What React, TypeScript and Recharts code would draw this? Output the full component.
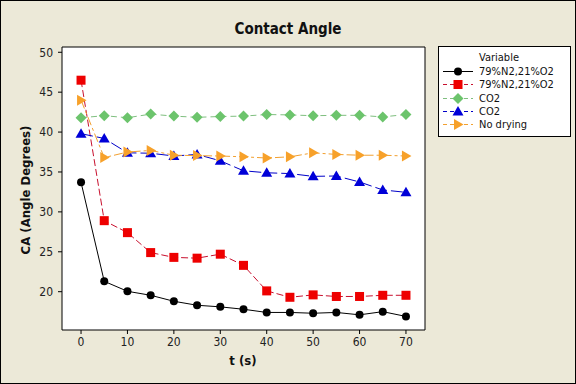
import React from 'react';
import { LineChart, Line, XAxis, YAxis, ReferenceArea } from 'recharts';

const times = [0, 5, 10, 15, 20, 25, 30, 35, 40, 45, 50, 55, 60, 65, 70];
const n2o2A = [33.7, 21.3, 20.05, 19.55, 18.8, 18.3, 18.1, 17.8, 17.4, 17.4, 17.3, 17.4, 17.1, 17.5, 16.9];
const n2o2B = [46.5, 28.9, 27.4, 24.9, 24.3, 24.2, 24.7, 23.3, 20.1, 19.3, 19.6, 19.4, 19.4, 19.55, 19.55];
const co2A = [41.8, 42.05, 41.8, 42.25, 42.0, 41.85, 41.95, 42.0, 42.2, 42.15, 42.05, 42.1, 42.1, 41.9, 42.2];
const co2B = [39.8, 39.2, 37.4, 37.35, 37.0, 37.2, 36.4, 35.15, 34.9, 34.8, 34.45, 34.5, 33.75, 32.75, 32.45];
const noDrying = [44.0, 36.8, 37.5, 37.7, 37.1, 37.05, 37.0, 36.9, 36.75, 36.9, 37.4, 37.2, 37.1, 37.1, 37.0];
const xTicks = [0, 10, 20, 30, 40, 50, 60, 70];
const yTicks = [20, 25, 30, 35, 40, 45, 50];

const data = times.map((t, i) => ({
  t,
  a: n2o2A[i],
  b: n2o2B[i],
  c: co2A[i],
  d: co2B[i],
  e: noDrying[i],
}));

type Shape = 'circle' | 'square' | 'diamond' | 'tri' | 'right';

function marker(shape: Shape, cx: number, cy: number, color: string, key?: any) {
  switch (shape) {
    case 'circle':
      return <circle key={key} cx={cx} cy={cy} r={4} fill={color} stroke="none" />;
    case 'square':
      return <rect key={key} x={cx - 4.5} y={cy - 4.5} width={9} height={9} fill={color} />;
    case 'diamond':
      return <polygon key={key} points={`${cx},${cy - 5.5} ${cx + 5.5},${cy} ${cx},${cy + 5.5} ${cx - 5.5},${cy}`} fill={color} />;
    case 'tri':
      return <polygon key={key} points={`${cx},${cy - 5.5} ${cx + 5.5},${cy + 4} ${cx - 5.5},${cy + 4}`} fill={color} />;
    case 'right':
      return <polygon key={key} points={`${cx + 5.5},${cy} ${cx - 4},${cy - 5.5} ${cx - 4},${cy + 5.5}`} fill={color} />;
  }
}

const series = [
  { key: 'a', name: '79%N2,21%O2', line: '#000000', fill: '#000000', dash: undefined as string | undefined, shape: 'circle' as Shape },
  { key: 'b', name: '79%N2,21%O2', line: '#C8102E', fill: '#EE0000', dash: '7 3', shape: 'square' as Shape },
  { key: 'c', name: 'CO2', line: '#7FBF7F', fill: '#6CC46C', dash: '6 4', shape: 'diamond' as Shape },
  { key: 'd', name: 'CO2', line: '#0000C8', fill: '#0000D8', dash: '12 4', shape: 'tri' as Shape },
  { key: 'e', name: 'No drying', line: '#F2A030', fill: '#F7A12A', dash: '9 3 3 3', shape: 'right' as Shape },
];

const font = '"DejaVu Sans Condensed", "DejaVu Sans", sans-serif';

export default function App() {
  return (
    <div
      style={{
        position: 'fixed',
        left: 0,
        top: 0,
        width: 576,
        height: 384,
        background: '#ECE9D8',
        border: '1px solid #000',
        boxSizing: 'border-box',
        fontFamily: font,
        overflow: 'hidden',
      }}
    >
      <div
        style={{
          position: 'absolute',
          left: -1,
          top: -1,
          width: 576,
          height: 384,
        }}
      >
        <LineChart
          width={576}
          height={384}
          data={data}
          margin={{ top: 47, left: 22, right: 151, bottom: 24 }}
        >
          <XAxis
            dataKey="t"
            type="number"
            domain={[-4.1, 74.1]}
            ticks={xTicks}
            allowDataOverflow
            height={30}
            tickSize={4}
            tickMargin={3}
            axisLine={false}
            tickLine={{ stroke: '#000' }}
            tick={{ fill: '#222', fontSize: 12, fontFamily: font }}
          />
          <YAxis
            type="number"
            domain={[15.2, 50.66]}
            ticks={yTicks}
            allowDataOverflow
            width={40}
            tickSize={4}
            tickMargin={5}
            axisLine={false}
            tickLine={{ stroke: '#000' }}
            tick={{ fill: '#222', fontSize: 12, fontFamily: font }}
          />
          <ReferenceArea
            x1={-4.1}
            x2={74.1}
            y1={15.2}
            y2={50.66}
            fill="#FFFFFF"
            fillOpacity={1}
            stroke="#000"
            strokeWidth={1}
            ifOverflow="visible"
          />
          {series.map((s) => (
            <Line
              key={s.key}
              dataKey={s.key}
              name={s.name}
              type="linear"
              stroke={s.line}
              strokeWidth={1}
              strokeDasharray={s.dash}
              isAnimationActive={false}
              dot={(p: any) => marker(s.shape, p.cx, p.cy, s.fill, p.index)}
              activeDot={false}
            />
          ))}
        </LineChart>
      </div>
      <div
        style={{
          position: 'absolute',
          left: 0,
          width: 574,
          top: 19,
          textAlign: 'center',
          fontSize: 15,
          fontWeight: 'bold',
          color: '#111',
        }}
      >
        Contact Angle
      </div>
      <div
        style={{
          position: 'absolute',
          left: 25 - 100,
          top: 189 - 9,
          width: 200,
          height: 18,
          lineHeight: '18px',
          textAlign: 'center',
          fontSize: 13,
          fontWeight: 'bold',
          color: '#111',
          transform: 'rotate(-90deg)',
        }}
      >
        CA (Angle Degrees)
      </div>
      <div
        style={{
          position: 'absolute',
          left: 242 - 50,
          top: 352,
          width: 100,
          textAlign: 'center',
          fontSize: 13,
          fontWeight: 'bold',
          color: '#111',
        }}
      >
        t (s)
      </div>
      <div
        style={{
          position: 'absolute',
          left: 437,
          top: 45,
          width: 133,
          height: 91,
          background: '#fff',
          border: '1px solid #000',
          boxSizing: 'border-box',
          fontSize: 11,
          color: '#111',
        }}
      >
        <div style={{ position: 'absolute', left: 40, top: 4, lineHeight: '13px' }}>Variable</div>
        {series.map((s, i) => (
          <div
            key={s.key}
            style={{
              position: 'absolute',
              left: 4,
              top: 18 + i * 13.3,
              height: 13,
              display: 'flex',
              alignItems: 'center',
            }}
          >
            <svg width={30} height={13} style={{ display: 'block' }}>
              <line x1={0} x2={30} y1={6.5} y2={6.5} stroke={s.line} strokeWidth={1} strokeDasharray={s.dash ? '4 3' : undefined} />
              {marker(s.shape, 15, 6.5, s.fill)}
            </svg>
            <span style={{ marginLeft: 6, whiteSpace: 'nowrap', lineHeight: '13px' }}>{s.name}</span>
          </div>
        ))}
      </div>
    </div>
  );
}
